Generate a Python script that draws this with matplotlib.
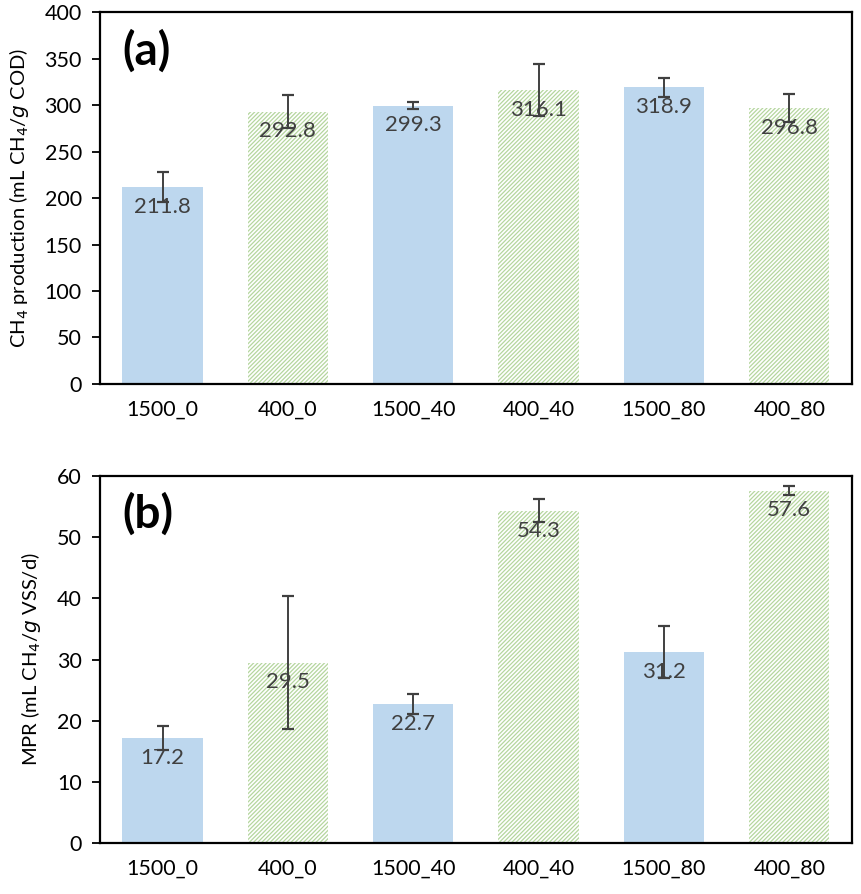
import matplotlib
matplotlib.use("Agg")
import matplotlib.pyplot as plt
import numpy as np

plt.rcParams['font.family'] = ['Lato', 'DejaVu Sans']
plt.rcParams['hatch.linewidth'] = 0.9

# data
groups = ['1500_0', '400_0', '1500_40', '400_40', '1500_80', '400_80']
ch4 = [211.8, 292.8, 299.3, 316.1, 318.9, 296.8]
ch4_err = [16, 17.5, 4, 28, 10.5, 15]
mpr = [17.2, 29.5, 22.7, 54.3, 31.2, 57.6]
mpr_err = [2.0, 10.8, 1.6, 1.9, 4.3, 0.7]

blue = '#BDD7EE'
green = '#B5D69E'
txt = '#404040'

fig = plt.figure(figsize=(8.61, 8.94), dpi=100)
ax1 = fig.add_axes([0.116, 0.5705, 0.8735, 0.416])
ax2 = fig.add_axes([0.116, 0.057, 0.8735, 0.4106])


def draw(ax, vals, errs, ymax, step, ylabel, tag):
    x = np.arange(len(groups))
    for i, (v, e) in enumerate(zip(vals, errs)):
        if i % 2 == 0:
            ax.bar(x[i], v, width=0.64, color=blue, linewidth=0)
        else:
            ax.bar(x[i], v, width=0.64, facecolor='white', edgecolor=green,
                   hatch='////////', linewidth=0)
        ax.errorbar(x[i], v, yerr=e, color=txt, capsize=4, elinewidth=1.4,
                    capthick=1.6, fmt='none')
        ax.annotate(f'{v:.1f}', (x[i], v), xytext=(0, -7), textcoords='offset points',
                    ha='center', va='top', fontsize=16, color=txt)
    ax.set_xlim(-0.5, len(groups) - 0.5)
    ax.set_ylim(0, ymax)
    ax.set_yticks(np.arange(0, ymax + 1, step))
    ax.set_xticks(x)
    ax.set_xticklabels(groups)
    ax.tick_params(axis='x', length=0, pad=11, labelsize=15.5)
    ax.tick_params(axis='y', length=6, width=1.3, pad=7, labelsize=15.5)
    for s in ax.spines.values():
        s.set_linewidth(1.6)
    ax.set_ylabel(ylabel, fontsize=14.5, labelpad=10)
    ax.text(0.03, 0.955, tag, transform=ax.transAxes, fontsize=33,
            fontweight='bold', va='top', ha='left')


draw(ax1, ch4, ch4_err, 400, 50, r'CH$_4$ production (mL CH$_4$/$g$ COD)', '(a)')
draw(ax2, mpr, mpr_err, 60, 10, r'MPR (mL CH$_4$/$g$ VSS/d)', '(b)')

fig.savefig('out.png', dpi=100)
